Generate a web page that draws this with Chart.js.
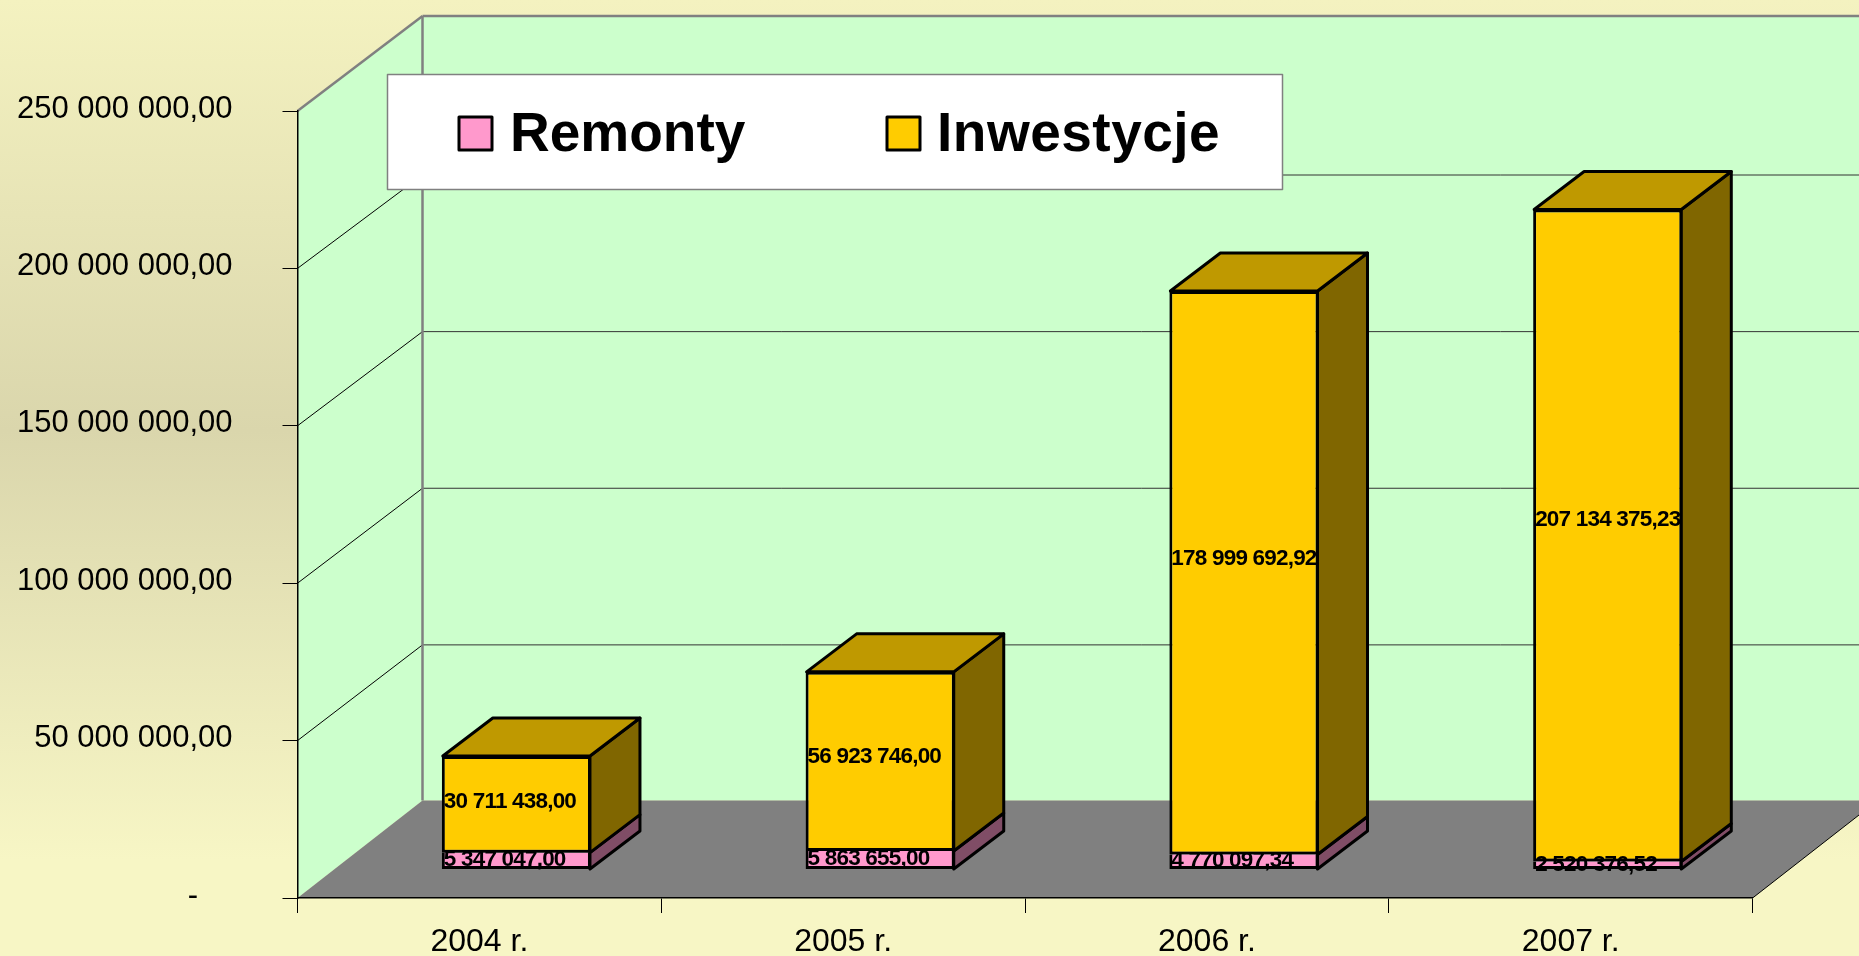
<!DOCTYPE html>
<html>
<head>
<meta charset="utf-8">
<title>Remonty i Inwestycje</title>
<style>
  html, body { margin: 0; padding: 0; background: #f7f6c5; overflow: hidden; }
  canvas { display: block; }
</style>
<script src="https://cdn.jsdelivr.net/npm/chart.js@4"></script>
</head>
<body>
<canvas id="chart" width="1859" height="956"></canvas>
<script>
const categories = ["2004 r.", "2005 r.", "2006 r.", "2007 r."];
const remonty = [5347047.0, 5863655.0, 4770097.34, 2520376.52];
const inwestycje = [30711438.0, 56923746.0, 178999692.92, 207134375.23];
const yTicks = [0, 50000000, 100000000, 150000000, 200000000, 250000000];
const yTickLabels = ["-\u00a0\u00a0\u00a0\u00a0", "50 000 000,00", "100 000 000,00", "150 000 000,00", "200 000 000,00", "250 000 000,00"];

const FONT = '"Liberation Sans", Arial, sans-serif';
const WALL = "#ccffcc";
const FLOOR = "#808080";
const EDGE = "#808080";
const PINK = "#ff99cc";
const PINK_SIDE = "#804d66";
const GOLD = "#ffcc00";
const GOLD_TOP = "#bf9900";
const GOLD_SIDE = "#806600";

// the "3D" box: how far the back wall sits behind the front plane, how far
// the bars stand in from the front plane, and how deep a bar is
const WALL_DX = 125;
const BAR_SHIFT = { x: 37, y: -28.5 };
const BAR_DEPTH = { x: 50, y: -38 };
const BAR_LINE = 3;

function fmt(n) {
  const [a, b] = n.toFixed(2).split(".");
  return a.replace(/\B(?=(\d{3})+$)/g, " ") + "," + b;
}

function poly(ctx, pts, fill, stroke, lw) {
  ctx.beginPath();
  pts.forEach((p, i) => (i ? ctx.lineTo(p[0], p[1]) : ctx.moveTo(p[0], p[1])));
  ctx.closePath();
  if (fill) {
    ctx.fillStyle = fill;
    ctx.fill();
  }
  if (stroke) {
    ctx.strokeStyle = stroke;
    ctx.lineWidth = lw;
    ctx.lineJoin = "round";
    ctx.stroke();
  }
}

function line(ctx, x1, y1, x2, y2, color, lw) {
  ctx.beginPath();
  ctx.moveTo(x1, y1);
  ctx.lineTo(x2, y2);
  ctx.strokeStyle = color;
  ctx.lineWidth = lw;
  ctx.stroke();
}

// back wall slips a little closer to the front plane going up
const backDy = (v) => 96.5 - v * 1.55e-8;

const backdrop = {
  id: "backdrop",
  beforeDraw(chart) {
    const { ctx, width, height, scales } = chart;
    const { x: sx, y: sy } = scales;
    const g = ctx.createLinearGradient(0, 0, 0, height);
    g.addColorStop(0, "#f4f2c0");
    g.addColorStop(0.45, "#dad6ac");
    g.addColorStop(0.9, "#f7f6c5");
    g.addColorStop(1, "#f7f6c5");
    ctx.save();
    ctx.fillStyle = g;
    ctx.fillRect(0, 0, width, height);

    const l = sx.left, r = sx.right;
    const y0 = sy.getPixelForValue(0);
    const yTop = sy.getPixelForValue(250000000);
    const backBottom = y0 - backDy(0) - 1;
    const backTop = yTop - 95;
    const lb = l + WALL_DX, rb = r + WALL_DX;

    poly(ctx, [[lb, backTop], [rb, backTop], [rb, backBottom], [lb, backBottom]], WALL);
    poly(ctx, [[l, yTop], [lb, backTop], [lb, backBottom], [l, y0]], WALL);

    for (const v of yTicks.slice(1, -1)) {
      const y = sy.getPixelForValue(v);
      const yb = y - backDy(v);
      line(ctx, l, y, lb, yb, "#000", 1);
      line(ctx, lb, yb, rb, yb, "#333", 1);
    }

    poly(ctx, [[l, y0], [r, y0], [rb, backBottom], [lb, backBottom]], FLOOR);
    line(ctx, r, y0, rb, backBottom, "#000", 1);

    line(ctx, lb, backTop, lb, backBottom, EDGE, 2.5);
    line(ctx, l, yTop, lb, backTop, EDGE, 2.5);
    line(ctx, lb, backTop, rb, backTop, EDGE, 2.5);
    ctx.restore();
  },
};

// bars stand inside the box, so the whole dataset pass runs shifted; the
// library draws the front faces, this adds the top and side faces first
const depthBars = {
  id: "depthBars",
  beforeDatasetsDraw(chart) {
    const { ctx } = chart;
    ctx.save();
    ctx.translate(BAR_SHIFT.x, BAR_SHIFT.y);
    const colors = [PINK_SIDE, GOLD_SIDE];
    chart.data.datasets.forEach((ds, d) => {
      chart.getDatasetMeta(d).data.forEach((bar) => {
        const right = bar.x + bar.width / 2 - 1;
        const left = bar.x - bar.width / 2 + 1;
        const dx = BAR_DEPTH.x, dy = BAR_DEPTH.y;
        poly(ctx, [[right, bar.y], [right + dx, bar.y + dy], [right + dx, bar.base + dy], [right, bar.base]], colors[d], "#000", BAR_LINE);
        if (d === chart.data.datasets.length - 1) {
          poly(ctx, [[left, bar.y], [left + dx, bar.y + dy], [right + dx, bar.y + dy], [right, bar.y]], GOLD_TOP, "#000", BAR_LINE);
        }
      });
    });
  },
  afterDatasetsDraw(chart) {
    const { ctx } = chart;
    ctx.font = "bold 22.5px " + FONT;
    ctx.letterSpacing = "-0.8px";
    ctx.fillStyle = "#000";
    ctx.textAlign = "left";
    ctx.textBaseline = "middle";
    chart.data.datasets.forEach((ds, d) => {
      chart.getDatasetMeta(d).data.forEach((bar, i) => {
        const h = bar.base - bar.y;
        const y = bar.y + h / 2 - h * 0.023 - 0.5;
        ctx.fillText(fmt(ds.data[i]), bar.x - bar.width / 2 + 2, y);
      });
    });
    ctx.letterSpacing = "0px";
    ctx.restore();
  },
};

const legendBox = {
  id: "legendBox",
  afterDraw(chart) {
    const { ctx } = chart;
    ctx.save();
    poly(ctx, [[387.5, 74.5], [1282.5, 74.5], [1282.5, 189.5], [387.5, 189.5]], "#fff", "#808080", 1.5);
    const keys = [
      { box: 459, text: 510, spacing: "0px" },
      { box: 887, text: 937, spacing: "0.5px" },
    ];
    ctx.font = "bold 55px " + FONT;
    ctx.textAlign = "left";
    ctx.textBaseline = "alphabetic";
    chart.data.datasets.forEach((ds, i) => {
      poly(ctx, [[keys[i].box, 117], [keys[i].box + 33, 117], [keys[i].box + 33, 150], [keys[i].box, 150]], ds.backgroundColor, "#000", BAR_LINE);
      ctx.fillStyle = "#000";
      ctx.letterSpacing = keys[i].spacing;
      ctx.fillText(ds.label, keys[i].text, 151);
    });
    ctx.letterSpacing = "0px";
    ctx.restore();
  },
};

new Chart(document.getElementById("chart"), {
  type: "bar",
  data: {
    labels: categories,
    datasets: [
      // the segments share one line where they meet: it belongs to the upper one
      { label: "Remonty", data: remonty, backgroundColor: PINK, borderColor: "#000", borderWidth: { top: 0, left: BAR_LINE, right: BAR_LINE, bottom: BAR_LINE }, borderSkipped: false, clip: false },
      { label: "Inwestycje", data: inwestycje, backgroundColor: GOLD, borderColor: "#000", borderWidth: BAR_LINE, borderSkipped: false, clip: false },
    ],
  },
  options: {
    responsive: false,
    animation: false,
    barPercentage: 0.41,
    categoryPercentage: 1,
    layout: { autoPadding: false, padding: { top: 111, right: 106.4, left: 0, bottom: 0 } },
    plugins: { legend: { display: false }, tooltip: { enabled: false } },
    scales: {
      x: {
        stacked: true,
        afterFit: (s) => { s.height = 58; },
        grid: { drawOnChartArea: false, tickLength: 15, color: "#000", tickColor: "#000", offset: true },
        border: { color: "#000", width: 1.5 },
        ticks: { color: "#000", font: { family: FONT, size: 32 }, padding: 10, maxRotation: 0 },
      },
      y: {
        stacked: true,
        min: 0,
        max: 250000000,
        // tick padding also feeds the scale's own vertical padding, which would pull the plot bottom up
        afterFit: (s) => { s.width = 297.5; s.paddingTop = 0; s.paddingBottom = 0; },
        afterBuildTicks: (s) => { s.ticks = yTicks.map((value) => ({ value })); },
        grid: { drawOnChartArea: false, tickLength: 15, color: "#000", tickColor: "#000" },
        border: { color: "#000", width: 1.5 },
        ticks: {
          color: "#000",
          font: { family: FONT, size: 31 },
          padding: 50,
          labelOffset: -2,
          callback: (v, i) => yTickLabels[i],
        },
      },
    },
  },
  plugins: [backdrop, depthBars, legendBox],
});
</script>
</body>
</html>
